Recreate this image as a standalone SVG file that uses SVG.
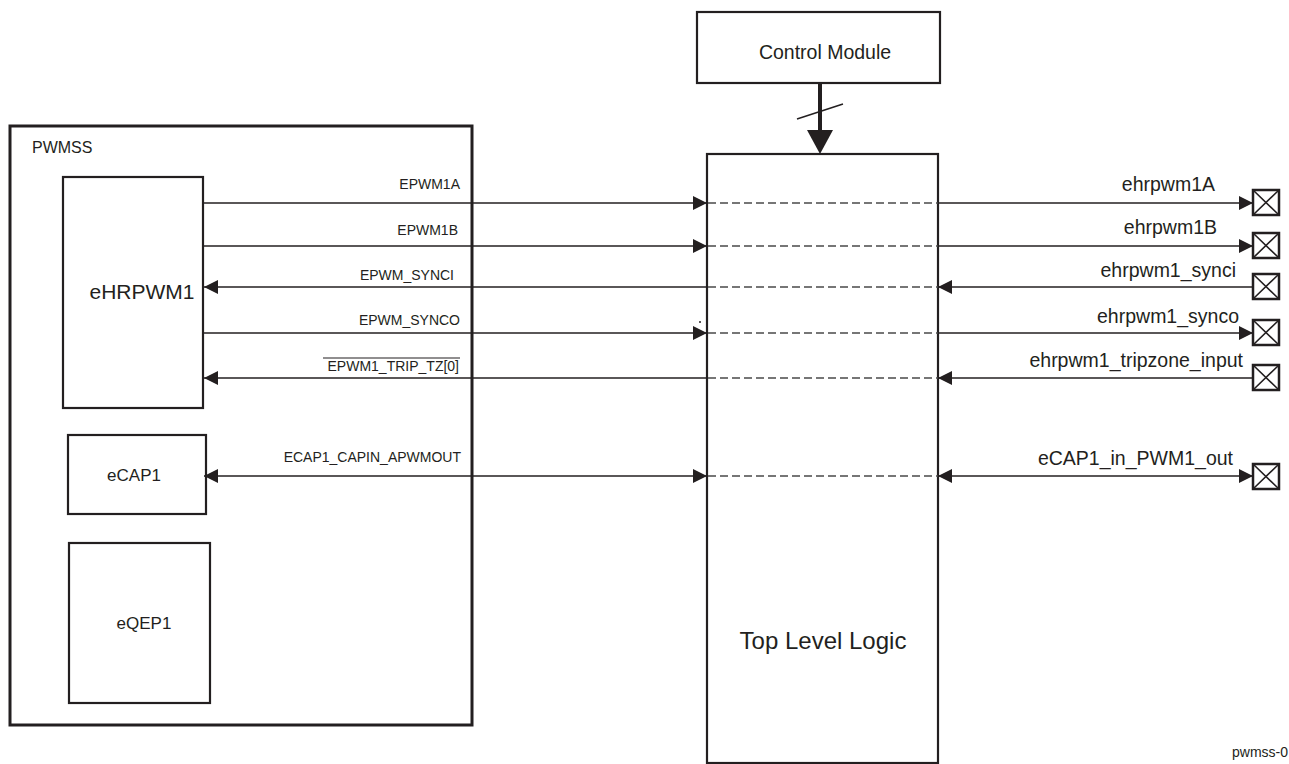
<svg xmlns="http://www.w3.org/2000/svg" width="1289" height="764" viewBox="0 0 1289 764">
<style>
text{font-family:"Liberation Sans",Arial,sans-serif;fill:#231f20}
.box{fill:#fff;stroke:#231f20;stroke-width:2.2}
.outer{fill:none;stroke:#231f20;stroke-width:3}
.ln{stroke:#231f20;stroke-width:1.3;fill:none}
.dash{stroke:#4a4a4a;stroke-width:1.3;stroke-dasharray:8 4;fill:none}
.sig{font-size:14px;text-anchor:end}
.pinlbl{font-size:19.5px;text-anchor:end}
.pin{fill:#fff;stroke:#231f20;stroke-width:2.5}
.x{stroke:#231f20;stroke-width:1.6}
</style>
<defs>
<marker id="ah" markerUnits="userSpaceOnUse" markerWidth="14" markerHeight="14" refX="14" refY="7" orient="auto-start-reverse" viewBox="0 0 14 14">
<path d="M0,0 L14,7 L0,14 z" fill="#231f20"/>
</marker>
</defs>

<g id="pwmss">
<rect class="outer" x="10" y="126" width="462" height="599"/>
<text x="32" y="153" style="font-size:16px">PWMSS</text>
</g>

<g id="ehrpwm1">
<rect class="box" x="63" y="177" width="140" height="231"/>
<text x="142" y="299" style="font-size:21px" text-anchor="middle">eHRPWM1</text>
</g>

<g id="ecap1">
<rect class="box" x="68" y="435" width="138" height="79"/>
<text x="134" y="481" style="font-size:17px" text-anchor="middle">eCAP1</text>
</g>

<g id="eqep1">
<rect class="box" x="69" y="543" width="141" height="160"/>
<text x="144" y="629" style="font-size:17px" text-anchor="middle">eQEP1</text>
</g>

<g id="control-module">
<rect class="box" x="697" y="12" width="243" height="71"/>
<text x="825" y="59" style="font-size:19.5px" text-anchor="middle">Control Module</text>
</g>

<g id="top-level-logic">
<rect class="box" x="707" y="154" width="231" height="609"/>
<text x="823" y="649" style="font-size:24px" text-anchor="middle">Top Level Logic</text>
</g>

<g id="pins">
<g id="pin-ehrpwm1A"><rect class="pin" x="1253" y="190" width="26" height="25"/><path class="x" d="M1253,190 L1279,215 M1279,190 L1253,215"/></g>
<g id="pin-ehrpwm1B"><rect class="pin" x="1253" y="233" width="26" height="25"/><path class="x" d="M1253,233 L1279,258 M1279,233 L1253,258"/></g>
<g id="pin-ehrpwm1_synci"><rect class="pin" x="1253" y="274" width="26" height="25"/><path class="x" d="M1253,274 L1279,299 M1279,274 L1253,299"/></g>
<g id="pin-ehrpwm1_synco"><rect class="pin" x="1253" y="320" width="26" height="25"/><path class="x" d="M1253,320 L1279,345 M1279,320 L1253,345"/></g>
<g id="pin-ehrpwm1_tripzone_input"><rect class="pin" x="1253" y="365" width="26" height="25"/><path class="x" d="M1253,365 L1279,390 M1279,365 L1253,390"/></g>
<g id="pin-eCAP1_in_PWM1_out"><rect class="pin" x="1253" y="464" width="26" height="25"/><path class="x" d="M1253,464 L1279,489 M1279,464 L1253,489"/></g>
</g>

<g id="connectors">
<line x1="820" y1="83" x2="820" y2="134" stroke="#231f20" stroke-width="4"/>
<polygon points="807,130 833,130 820,154" fill="#231f20"/>
<line x1="797" y1="119" x2="843" y2="104" stroke="#231f20" stroke-width="1.5"/>

<line class="ln" x1="204" y1="203" x2="707" y2="203" marker-end="url(#ah)"/>
<line class="dash" x1="708" y1="203" x2="938" y2="203"/>
<line class="ln" x1="938" y1="203" x2="1253" y2="203" marker-end="url(#ah)"/>

<line class="ln" x1="204" y1="246" x2="707" y2="246" marker-end="url(#ah)"/>
<line class="dash" x1="708" y1="246" x2="938" y2="246"/>
<line class="ln" x1="938" y1="246" x2="1253" y2="246" marker-end="url(#ah)"/>

<line class="ln" x1="707" y1="287" x2="204" y2="287" marker-end="url(#ah)"/>
<line class="dash" x1="708" y1="287" x2="938" y2="287"/>
<line class="ln" x1="1253" y1="287" x2="938" y2="287" marker-end="url(#ah)"/>

<line class="ln" x1="204" y1="333" x2="707" y2="333" marker-end="url(#ah)"/>
<line class="dash" x1="708" y1="333" x2="938" y2="333"/>
<line class="ln" x1="938" y1="333" x2="1253" y2="333" marker-end="url(#ah)"/>
<circle cx="700" cy="322" r="1" fill="#231f20"/>

<line class="ln" x1="707" y1="378" x2="204" y2="378" marker-end="url(#ah)"/>
<line class="dash" x1="708" y1="378" x2="938" y2="378"/>
<line class="ln" x1="1253" y1="378" x2="938" y2="378" marker-end="url(#ah)"/>

<line class="ln" x1="204" y1="476" x2="707" y2="476" marker-start="url(#ah)" marker-end="url(#ah)"/>
<line class="dash" x1="708" y1="476" x2="938" y2="476"/>
<line class="ln" x1="938" y1="476" x2="1253" y2="476" marker-start="url(#ah)" marker-end="url(#ah)"/>
</g>

<g id="signal-labels">
<text class="sig" x="460" y="189">EPWM1A</text>
<text class="sig" x="458" y="235">EPWM1B</text>
<text class="sig" x="454" y="280">EPWM_SYNCI</text>
<text class="sig" x="460" y="325">EPWM_SYNCO</text>
<text class="sig" x="459" y="371">EPWM1_TRIP_TZ[0]</text>
<line x1="323" y1="358" x2="460" y2="358" stroke="#231f20" stroke-width="1.2"/>
<text class="sig" x="461" y="462">ECAP1_CAPIN_APWMOUT</text>

<text class="pinlbl" x="1215" y="191">ehrpwm1A</text>
<text class="pinlbl" x="1217" y="234">ehrpwm1B</text>
<text class="pinlbl" x="1236" y="277">ehrpwm1_synci</text>
<text class="pinlbl" x="1239" y="323">ehrpwm1_synco</text>
<text class="pinlbl" x="1243" y="367">ehrpwm1_tripzone_input</text>
<text class="pinlbl" x="1233" y="465">eCAP1_in_PWM1_out</text>
</g>

<text x="1232" y="757" style="font-size:14px">pwmss-0</text>
</svg>
